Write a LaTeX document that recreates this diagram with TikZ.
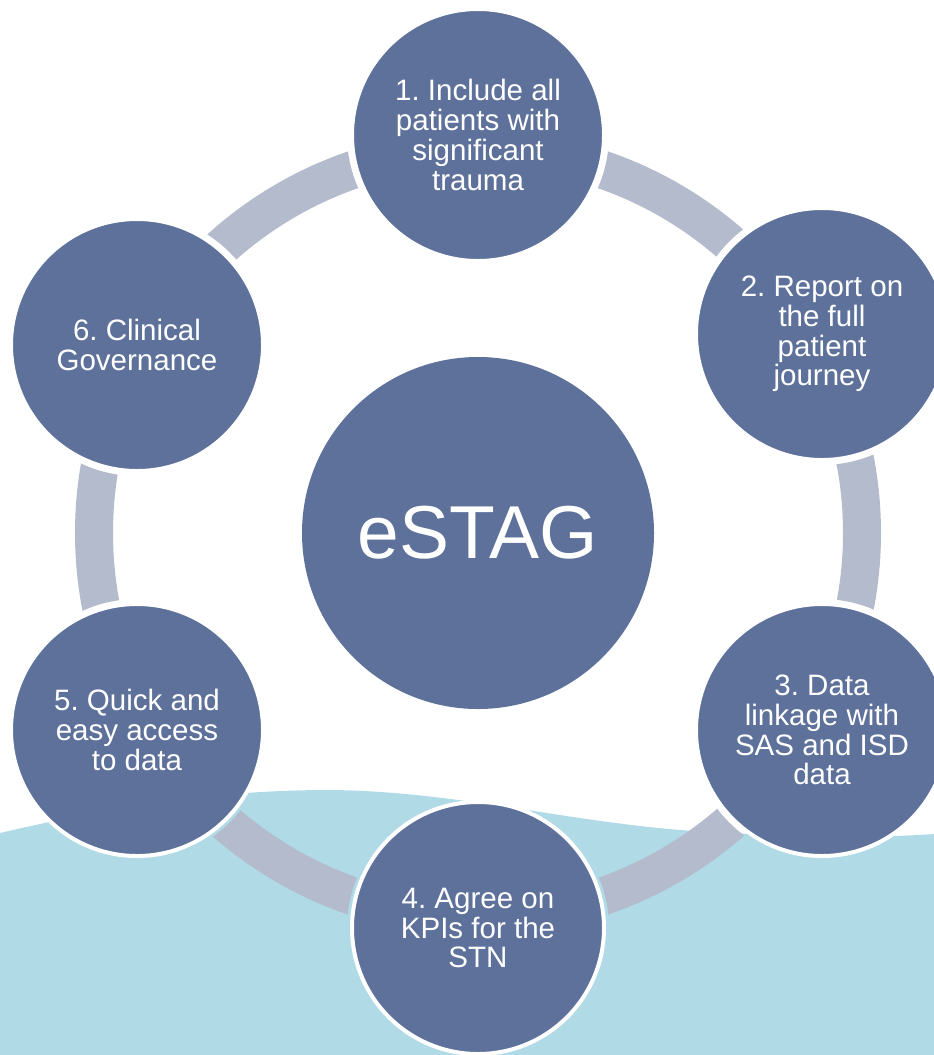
\documentclass[tikz,border=0pt]{standalone}
\usepackage{fontspec}
\setmainfont{Liberation Sans}
\usetikzlibrary{backgrounds}
\definecolor{estag_blue}{RGB}{94, 113, 155}
\definecolor{estag_ring}{RGB}{180, 187, 204}
\definecolor{estag_sea}{RGB}{175, 218, 230}
\tikzstyle{bn}=[circle,fill=estag_blue,draw=white,line width=0.12cm,
  inner sep=0pt,minimum size=7.56cm,text=white,align=center,
  font=\fontsize{25.2pt}{25.4pt}\selectfont\frenchspacing]
\tikzstyle{hub}=[circle,fill=estag_blue,inner sep=0pt,minimum size=10.56cm,
  text=white,font=\fontsize{64pt}{64pt}\selectfont]
\tikzstyle{ring}=[draw=estag_ring,line width=1.14cm]

\begin{document}
\begin{tikzpicture}[x=0.03cm,y=-0.03cm]
    \useasboundingbox (0,0) rectangle (934,1055);
    \clip (0,0) rectangle (934,1055);
    \node [style=hub] (hub) at (478,533) {eSTAG};
    \node [style=bn] (1b) at (478,135) {1. Include all\\patients with\\significant\\trauma};
    \node [style=bn] (2b) at (822,334) {2. Report on\\the full\\patient\\journey};
    \node [style=bn] (3b) at (822,730) {3. Data\\linkage with\\SAS and ISD\\data};
    \node [style=bn] (4b) at (478,928) {4. Agree on\\KPIs for the\\STN};
    \node [style=bn] (5b) at (137,730) {5. Quick and\\easy access\\to data};
    \node [style=bn] (6b) at (137,345) {6. Clinical\\Governance};
    \begin{pgfonlayer}{background}
      \fill [estag_sea] (0,833) .. controls (120,805) and (220,790) .. (330,790)
        .. controls (450,791) and (560,820) .. (680,830)
        .. controls (800,838) and (880,838) .. (934,834)
        -- (934,1055) -- (0,1055) -- cycle;
      \begin{scope}[even odd rule]
        \clip (0,0) rectangle (934,1055)
          (1b) circle [radius=131] (2b) circle [radius=131]
          (3b) circle [radius=131] (4b) circle [radius=131]
          (5b) circle [radius=131] (6b) circle [radius=131];
        \draw [style=ring] (hub) circle [radius=384];
      \end{scope}
    \end{pgfonlayer}
  \end{tikzpicture}
\end{document}
